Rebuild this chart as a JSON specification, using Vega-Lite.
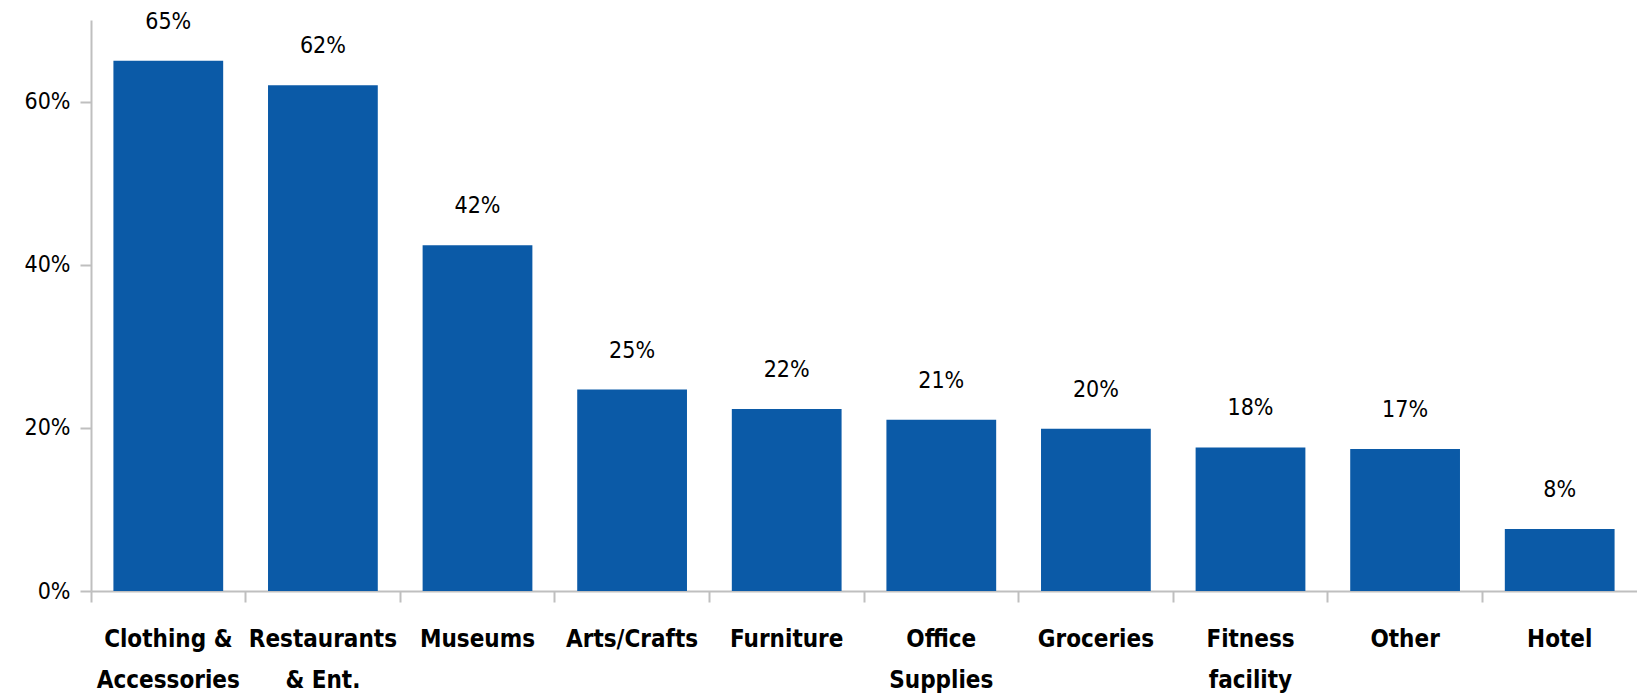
{
  "$schema": "https://vega.github.io/schema/vega-lite/v6.json",
  "autosize": "none",
  "width": 1546,
  "height": 571,
  "padding": {"left": 91, "top": 20, "right": 0, "bottom": 109},
  "background": "white",
  "config": {"view": {"stroke": null}, "font": "'DejaVu Sans Condensed', Roboto, sans-serif"},
  "data": {"values": [
    {"category": "Clothing &|Accessories", "value": 0.650},
    {"category": "Restaurants|& Ent.", "value": 0.620},
    {"category": "Museums", "value": 0.424},
    {"category": "Arts/Crafts", "value": 0.247},
    {"category": "Furniture", "value": 0.223},
    {"category": "Office|Supplies", "value": 0.210},
    {"category": "Groceries", "value": 0.199},
    {"category": "Fitness|facility", "value": 0.176},
    {"category": "Other", "value": 0.174},
    {"category": "Hotel", "value": 0.076}
  ]},
  "encoding": {
    "x": {"field": "category", "type": "nominal", "sort": null,
      "scale": {"paddingInner": 0.29, "paddingOuter": 0.145},
      "axis": {"title": null, "labelAngle": 0, "labelExpr": "split(datum.label, '|')",
        "labelFont": "'DejaVu Sans Condensed', Roboto, sans-serif", "labelFontSize": 24, "labelFontWeight": "bold", "labelColor": "#000000",
        "labelLineHeight": 41, "labelPadding": 25, "bandPosition": -0.204, "tickSize": 11,
        "domainColor": "#bfbfbf", "tickColor": "#bfbfbf", "domainWidth": 2, "tickWidth": 2, "labelBaseline": "top"}},
    "y": {"field": "value", "type": "quantitative",
      "scale": {"domain": [0, 0.7], "nice": false},
      "axis": {"title": null, "format": ".0%", "values": [0, 0.2, 0.4, 0.6], "grid": false,
        "labelFont": "'DejaVu Sans Condensed', Roboto, sans-serif", "labelFontSize": 23, "labelColor": "#000000",
        "labelPadding": 10, "tickSize": 11, "domainColor": "#bfbfbf", "tickColor": "#bfbfbf", "domainWidth": 2, "tickWidth": 2}}
  },
  "layer": [
    {"mark": {"type": "bar", "color": "#0b5aa7"}},
    {"mark": {"type": "text", "baseline": "alphabetic", "dy": -32, "fontSize": 23, "color": "#000000", "font": "'DejaVu Sans Condensed', Roboto, sans-serif"},
      "encoding": {"text": {"field": "value", "type": "quantitative", "format": ".0%"}}}
  ]
}
